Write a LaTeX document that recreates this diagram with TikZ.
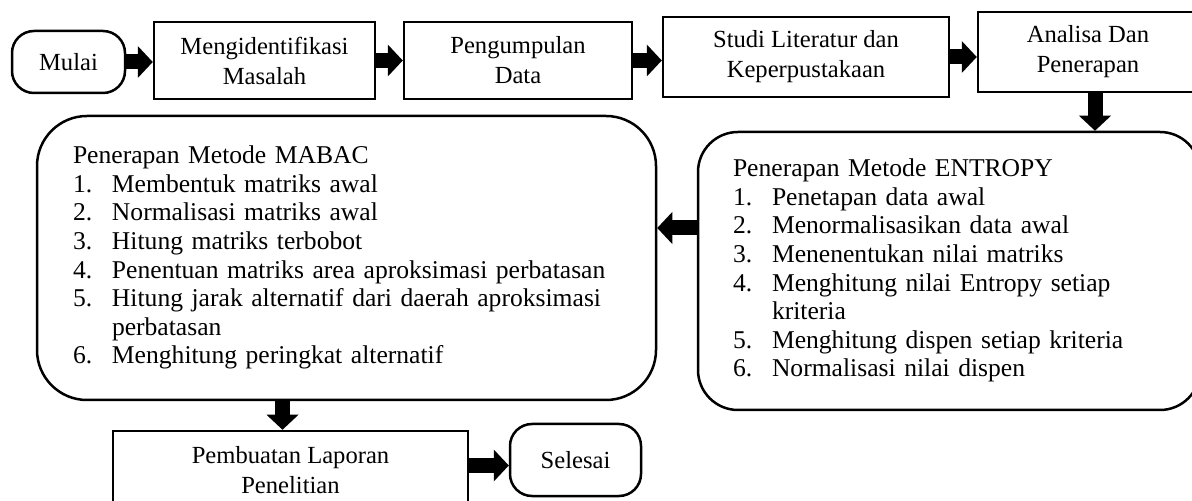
\documentclass[tikz,border=0pt]{standalone}
\usepackage{fontspec}
\setmainfont{Liberation Serif}
\usepackage{tikz}
\usetikzlibrary{positioning,calc,arrows.meta}

\tikzset{
    proc/.style={draw, line width=1.25pt, align=center, inner sep=0pt, font=\fontsize{12.3}{15}\selectfont},
    term/.style={proc, rounded corners=11pt},
    method/.style={draw, line width=1.25pt, inner sep=0pt, align=left, font=\fontsize{12.8}{14.3}\selectfont},
    flow/.style={line width=7.5pt, -{Triangle[width=16pt,length=7.5pt,line width=0pt]}}
}

\begin{document}
\begin{tikzpicture}[x=0.5pt,y=-0.5pt]
        \useasboundingbox (0,0) rectangle (1192,501);
        \clip (0,0) rectangle (1192,501);
        \node[term, minimum width=56.5pt, minimum height=31pt] (mulai) at (68.5,62) {Mulai};
        \node[proc, minimum width=110.5pt, minimum height=38.5pt] (ident) at (264.5,60.5) {Mengidentifikasi\\Masalah};
        \node[proc, minimum width=114pt, minimum height=38.5pt] (kumpul) at (518,60.5) {Pengumpulan\\Data};
        \node[proc, minimum width=143pt, minimum height=40pt] (studi) at (806,57) {Studi Literatur dan\\Keperpustakaan};
        \node[proc, minimum width=110pt, minimum height=40pt] (analisa) at (1088,52) {Analisa Dan\\Penerapan};
        \node[method, rounded corners=20pt, minimum width=251pt, minimum height=139pt, text width=216pt] (entropy) at (949,271) {%
            \begin{tabular}{@{}p{19.5pt}@{}l@{}}
            \multicolumn{2}{@{}l@{}}{Penerapan Metode ENTROPY}\\
            1. & Penetapan data awal\\
            2. & Menormalisasikan data awal\\
            3. & Menenentukan nilai matriks\\
            4. & Menghitung nilai Entropy setiap\\
               & kriteria\\
            5. & Menghitung dispen setiap kriteria\\
            6. & Normalisasi nilai dispen
            \end{tabular}};
        \node[method, rounded corners=25pt, minimum width=309.5pt, minimum height=142pt, text width=273.5pt] (mabac) at (346.5,258) {%
            \begin{tabular}{@{}p{19.5pt}@{}l@{}}
            \multicolumn{2}{@{}l@{}}{Penerapan Metode MABAC}\\
            1. & Membentuk matriks awal\\
            2. & Normalisasi matriks awal\\
            3. & Hitung matriks terbobot\\
            4. & Penentuan matriks area aproksimasi perbatasan\\
            5. & Hitung jarak alternatif dari daerah aproksimasi\\
               & perbatasan\\
            6. & Menghitung peringkat alternatif
            \end{tabular}};
        \node[proc, minimum width=177.5pt, minimum height=39.5pt] (laporan) at (290.5,470.5) {Pembuatan Laporan\\Penelitian};
        \node[term, minimum width=65.5pt, minimum height=36pt] (selesai) at (575.5,460) {Selesai};
        \draw[flow] (mulai.east) -- (mulai.east -| ident.west);
        \draw[flow] (ident.east) -- (ident.east -| kumpul.west);
        \draw[flow] (kumpul.east) -- (kumpul.east -| studi.west);
        \draw[flow] (studi.east) -- (studi.east -| analisa.west);
        \draw[flow] ([xshift=3.5pt]analisa.south) -- ([xshift=3.5pt]analisa.south |- entropy.north);
        \draw[flow] ([yshift=21.5pt]entropy.west) -- ([yshift=21.5pt]entropy.west -| mabac.east);
        \draw[flow] ([xshift=-4pt]laporan.north |- mabac.south) -- ([xshift=-4pt]laporan.north);
        \draw[flow] ([yshift=2.5pt]laporan.east) -- ([yshift=2.5pt]laporan.east -| selesai.west);
    \end{tikzpicture}
\end{document}
